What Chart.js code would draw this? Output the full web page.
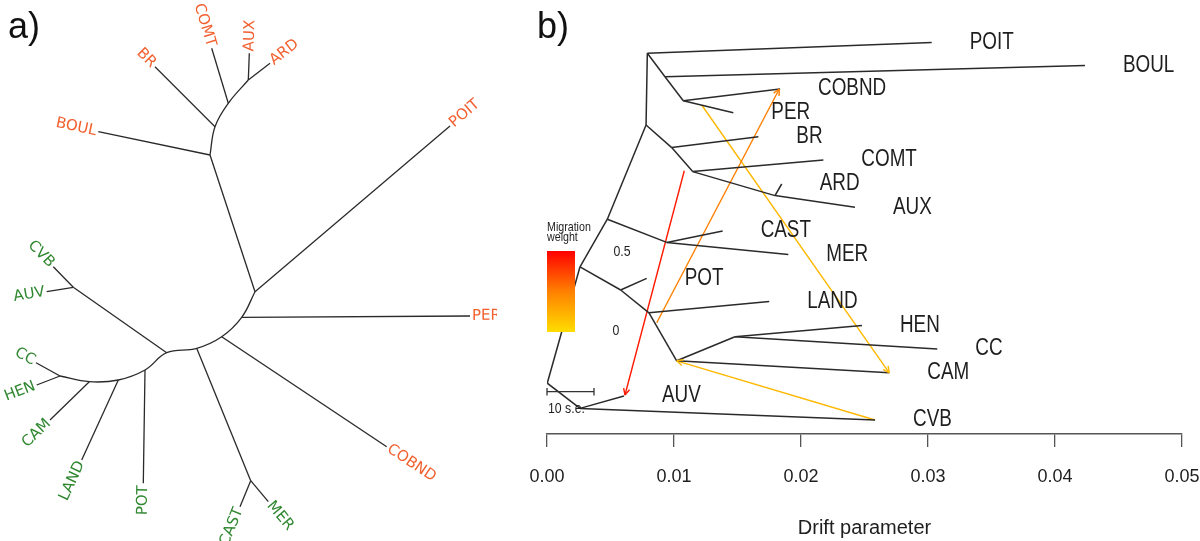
<!DOCTYPE html>
<html>
<head>
<meta charset="utf-8">
<script src="https://cdn.jsdelivr.net/npm/chart.js@4.4.1/dist/chart.umd.min.js"></script>
<style>
  html, body { margin: 0; padding: 0; background: #fff; }
  #wrap { position: relative; width: 1200px; height: 541px; overflow: hidden; }
  #treeA { position: absolute; left: 0; top: 0; }
  #treeB { position: absolute; left: 500px; top: 0; }
</style>
</head>
<body>
<div id="wrap">
  <canvas id="treeA" width="497" height="541"></canvas>
  <canvas id="treeB" width="700" height="541"></canvas>
</div>
<script>
// ─── a) unrooted tree (layout units) ───────────────────
const aInnerNames = ['A', 'B', 'C', 'D', 'E', 'F', 'G', 'H', 'I', 'J', 'K', 'L', 'M', 'AV', 'CM'];
const aInnerX     = [2.10, 2.15, 2.283, 2.483, 2.55, 2.417, 2.217, 1.967, 1.667, 1.45, 1.183, 0.893, 0.60, 0.733, 2.507];
const aInnerY     = [1.55, 1.267, 1.033, 0.80, 2.917, 3.173, 3.367, 3.483, 3.527, 3.70, 3.80, 3.817, 3.76, 2.873, 4.807];
const aArcs       = [['A', 'B', 'C', 'D'], ['E', 'F', 'G', 'H', 'I', 'J', 'K', 'L', 'M']];
const aStems      = [['E', 'A'], ['H', 'CM'], ['I', 'AV']];

const aTipNames  = ['BOUL', 'BR', 'COMT', 'AUX', 'ARD', 'POIT', 'PER', 'COBND', 'CAST', 'MER', 'CVB', 'AUV', 'POT', 'LAND', 'CAM', 'HEN', 'CC'];
const aTipX      = [0.983, 1.55, 2.117, 2.493, 2.70, 4.50, 4.70, 3.867, 2.40, 2.683, 0.533, 0.467, 1.433, 0.817, 0.50, 0.367, 0.36];
const aTipY      = [1.317, 0.667, 0.483, 0.533, 0.633, 1.26, 3.16, 4.467, 5.067, 5.017, 2.667, 2.917, 4.833, 4.60, 4.20, 3.85, 3.627];
const aTipParent = ['A', 'B', 'C', 'D', 'D', 'E', 'F', 'G', 'CM', 'CM', 'AV', 'AV', 'J', 'K', 'L', 'M', 'M'];
const aTipGroup  = ['N', 'N', 'N', 'N', 'N', 'N', 'N', 'N', 'S', 'S', 'S', 'S', 'S', 'S', 'S', 'S', 'S'];

// ─── b) TreeMix graph: drift (x) and vertical order (y) ─
const bNodeNames  = ['R', 'Nb', 'N1', 'N2', 'N3', 'N4', 'N5', 'N6', 'N7', 'N8', 'N9', 'N10', 'N11', 'N12', 'N13', 'N14'];
const bNodeDrift  = [0.0079, 0.00929, 0.01073, 0.0078, 0.00982, 0.01147, 0.01795, 0.00475, 0.00943, 0.0026, 0.0058, 0.00803, 0.01021, 0.0148, 0.00002, 0.0026];
const bNodeY      = [0.952, 0.893, 0.833, 0.7725, 0.716, 0.656, 0.596, 0.537, 0.479, 0.418, 0.36, 0.303, 0.183, 0.243, 0.127, 0.064];
const bNodeParent = [null, 'R', 'Nb', 'R', 'N2', 'N3', 'N4', 'N2', 'N6', 'N6', 'N8', 'N9', 'N10', 'N11', 'N8', 'N13'];

const bPops      = ['POIT', 'BOUL', 'COBND', 'PER', 'BR', 'COMT', 'ARD', 'AUX', 'CAST', 'MER', 'POT', 'LAND', 'HEN', 'CC', 'CAM', 'AUV', 'CVB'];
const bPopDrift  = [0.03029, 0.04236, 0.01835, 0.01467, 0.01664, 0.02176, 0.01848, 0.02425, 0.01383, 0.019, 0.00785, 0.0175, 0.0248, 0.03073, 0.02695, 0.00606, 0.02583];
const bPopY      = [0.979, 0.921, 0.8625, 0.803, 0.743, 0.685, 0.625, 0.567, 0.5075, 0.449, 0.389, 0.331, 0.271, 0.2125, 0.153, 0.095, 0.035];
const bPopParent = ['R', 'Nb', 'N1', 'N1', 'N3', 'N4', 'N5', 'N5', 'N7', 'N7', 'N9', 'N10', 'N12', 'N12', 'N11', 'N14', 'N14'];

// migration edges (arrow points at "to")
const migFromDrift = [0.01081, 0.00864, 0.01218, 0.02583];
const migFromY     = [0.658, 0.278, 0.8225, 0.035];
const migToDrift   = [0.00614, 0.01829, 0.02695, 0.01021];
const migToY       = [0.0975, 0.8625, 0.153, 0.183];
const migWeight    = [0.45, 0.25, 0.1, 0.1];

const driftTicks = [0, 0.01, 0.02, 0.03, 0.04, 0.05];

// ─── helpers ───────────────────────────────────────────
const ORANGE = '#f2602f', GREEN = '#2f872f', INK = '#1e1e1e';

function fontAvailable(name) {
  const c = document.createElement('canvas').getContext('2d');
  c.font = '40px monospace';
  const w0 = c.measureText('Drift parameter 0.05').width;
  c.font = `40px "${name}", monospace`;
  return c.measureText('Drift parameter 0.05').width !== w0;
}
const NARROW = fontAvailable('Liberation Sans Narrow');
const tickFont = NARROW
  ? { family: '"Liberation Sans Narrow", sans-serif', size: 22 }
  : { family: '"Liberation Sans", Arial, sans-serif', size: 18 };
const titleFont = NARROW
  ? { family: '"Liberation Sans Narrow", sans-serif', size: 23 }
  : { family: '"Liberation Sans", Arial, sans-serif', size: 20 };

function weightColour(w) {
  const t = Math.max(0, Math.min(1, w / 0.5));
  const g = t < 0.5 ? 221 - 93 * t * 2 : 128 - 128 * (t - 0.5) * 2;
  return `rgb(255,${Math.round(g)},0)`;
}

function squeezedText(ctx, s, x, y, size, align) {
  ctx.save();
  ctx.font = `${size}px "Liberation Sans", Arial, sans-serif`;
  ctx.textAlign = align || 'left';
  ctx.textBaseline = 'middle';
  ctx.fillStyle = INK;
  ctx.translate(x, y);
  ctx.scale(0.82, 1);
  ctx.fillText(s, 0, 0);
  ctx.restore();
}

const seg = (pts, extra) => Object.assign({
  data: pts, borderColor: '#2a2a2a', borderWidth: 1.3,
  pointRadius: 0, fill: false, tension: 0
}, extra || {});

// ─── panel a ───────────────────────────────────────────
const aPt = n => { const k = aInnerNames.indexOf(n); return { x: aInnerX[k], y: aInnerY[k] }; };
const aSets = [];
aArcs.forEach(arc => aSets.push(seg(arc.map(aPt), { tension: 0.4 })));
aStems.forEach(([p, c]) => aSets.push(seg([aPt(p), aPt(c)])));
aTipNames.forEach((n, i) => aSets.push(seg([aPt(aTipParent[i]), { x: aTipX[i], y: aTipY[i] }])));

const treeALabels = {
  id: 'treeALabels',
  afterDatasetsDraw(chart) {
    const { ctx, scales: { x, y } } = chart;
    ctx.save();
    ctx.font = '15px "DejaVu Sans", "Noto Sans", sans-serif';
    ctx.textBaseline = 'middle';
    aTipNames.forEach((name, i) => {
      const k  = aInnerNames.indexOf(aTipParent[i]);
      const px = x.getPixelForValue(aTipX[i]), py = y.getPixelForValue(aTipY[i]);
      const qx = x.getPixelForValue(aInnerX[k]), qy = y.getPixelForValue(aInnerY[k]);
      const dx = px - qx, dy = py - qy, len = Math.hypot(dx, dy);
      const right = dx >= 0;
      ctx.save();
      ctx.translate(px + dx / len * 2, py + dy / len * 2);
      ctx.rotate(right ? Math.atan2(dy, dx) : Math.atan2(-dy, -dx));
      ctx.textAlign = right ? 'left' : 'right';
      ctx.fillStyle = aTipGroup[i] === 'N' ? ORANGE : GREEN;
      ctx.fillText(name, 0, 0);
      ctx.restore();
    });
    ctx.font = '36px "Liberation Sans", Arial, sans-serif';
    ctx.fillStyle = '#111';
    ctx.textAlign = 'left';
    ctx.textBaseline = 'alphabetic';
    ctx.fillText('a)', 8, 38);
    ctx.restore();
  }
};

new Chart(document.getElementById('treeA'), {
  type: 'line',
  data: { datasets: aSets },
  options: {
    responsive: false, animation: false,
    layout: { padding: 0 },
    plugins: { legend: { display: false }, tooltip: { enabled: false } },
    scales: {
      x: { type: 'linear', min: 0, max: 4.97, display: false },
      y: { type: 'linear', min: 0, max: 5.41, reverse: true, display: false }
    }
  },
  plugins: [treeALabels]
});

// ─── panel b ───────────────────────────────────────────
const bPt = n => { const k = bNodeNames.indexOf(n); return { x: bNodeDrift[k], y: bNodeY[k] }; };
const bSets = [];
bNodeNames.forEach((n, i) => { if (bNodeParent[i]) bSets.push(seg([bPt(bNodeParent[i]), bPt(n)], { borderWidth: 1.5 })); });
bPops.forEach((n, i) => bSets.push(seg([bPt(bPopParent[i]), { x: bPopDrift[i], y: bPopY[i] }], { borderWidth: 1.5 })));
migWeight.forEach((w, i) => bSets.push(seg(
  [{ x: migFromDrift[i], y: migFromY[i] }, { x: migToDrift[i], y: migToY[i] }],
  { borderColor: weightColour(w), borderWidth: 1.4 })));

const treeBDecor = {
  id: 'treeBDecor',
  afterDatasetsDraw(chart) {
    const { ctx, chartArea: ca, scales: { x, y } } = chart;
    ctx.save();

    // arrowheads on migration edges
    migWeight.forEach((w, i) => {
      const px = x.getPixelForValue(migToDrift[i]), py = y.getPixelForValue(migToY[i]);
      const qx = x.getPixelForValue(migFromDrift[i]), qy = y.getPixelForValue(migFromY[i]);
      const a = Math.atan2(py - qy, px - qx);
      ctx.strokeStyle = weightColour(w);
      ctx.lineWidth = 1.4;
      ctx.beginPath();
      [a + Math.PI - 0.45, a + Math.PI + 0.45].forEach(t => {
        ctx.moveTo(px, py);
        ctx.lineTo(px + 7 * Math.cos(t), py + 7 * Math.sin(t));
      });
      ctx.stroke();
    });

    // population labels
    bPops.forEach((n, i) => {
      squeezedText(ctx, n, x.getPixelForValue(bPopDrift[i]) + 38, y.getPixelForValue(bPopY[i]), 23);
    });

    // migration weight legend
    const L = ca.left;
    squeezedText(ctx, 'Migration', L, 227, 13);
    squeezedText(ctx, 'weight', L, 237, 13);
    const g = ctx.createLinearGradient(0, 251, 0, 332);
    g.addColorStop(0, '#ff0000');
    g.addColorStop(0.5, '#ff8000');
    g.addColorStop(1, '#ffdd00');
    ctx.fillStyle = g;
    ctx.fillRect(L, 251, 28, 81);
    squeezedText(ctx, '0.5', L + 75, 252, 15, 'center');
    squeezedText(ctx, '0', L + 69, 331, 15, 'center');

    // 10 s.e. scale bar
    ctx.strokeStyle = '#333';
    ctx.lineWidth = 1.3;
    ctx.beginPath();
    ctx.moveTo(L, 391.7); ctx.lineTo(L + 47, 391.7);
    ctx.moveTo(L, 388); ctx.lineTo(L, 395.5);
    ctx.moveTo(L + 47, 388); ctx.lineTo(L + 47, 395.5);
    ctx.stroke();
    squeezedText(ctx, '10 s.e.', L + 1, 408.5, 15);

    ctx.font = '36px "Liberation Sans", Arial, sans-serif';
    ctx.fillStyle = '#111';
    ctx.textAlign = 'left';
    ctx.textBaseline = 'alphabetic';
    ctx.fillText('b)', 37, 38);
    ctx.restore();
  }
};

const tickLh = tickFont.size * 1.2, titleLh = titleFont.size * 1.2;
new Chart(document.getElementById('treeB'), {
  type: 'line',
  data: { datasets: bSets },
  options: {
    responsive: false, animation: false,
    layout: { padding: { left: 47, right: 18, top: 34, bottom: 0 } },
    plugins: { legend: { display: false }, tooltip: { enabled: false } },
    scales: {
      x: {
        type: 'linear', min: 0, max: 0.05,
        afterBuildTicks: s => { s.ticks = driftTicks.map(v => ({ value: v })); },
        afterFit: s => { s.height = 107; s.paddingLeft = 0; s.paddingRight = 0; },
        ticks: {
          autoSkip: false, maxRotation: 0, color: INK, font: tickFont,
          padding: 477 - 447 - tickLh / 2,
          callback: v => v.toFixed(2)
        },
        grid: { drawOnChartArea: false, drawTicks: true, tickLength: 13, color: '#555', lineWidth: 1.3 },
        border: { display: true, color: '#555', width: 1.6 },
        title: {
          display: true, text: 'Drift parameter', color: INK, font: titleFont,
          padding: { top: 0, bottom: Math.max(0, 541 - 528 - titleLh / 2) }
        }
      },
      y: { type: 'linear', min: 0, max: 1, display: false }
    }
  },
  plugins: [treeBDecor]
});
</script>
</body>
</html>
